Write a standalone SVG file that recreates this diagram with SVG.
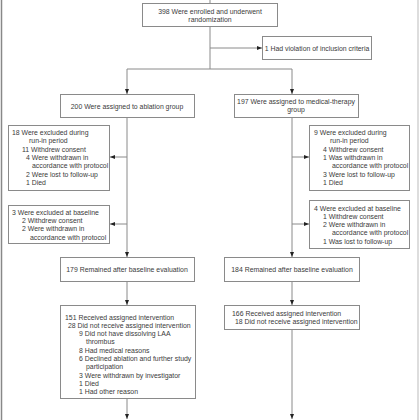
<svg xmlns="http://www.w3.org/2000/svg" width="420" height="420" viewBox="0 0 420 420">
<defs>
<marker id="ah" markerUnits="userSpaceOnUse" markerWidth="5" markerHeight="4" refX="5" refY="2" orient="auto">
<path d="M0,0 L5,2 L0,4 z" fill="#222"/>
</marker>
<style>
.box{fill:#fff;stroke:#8a8a8a;stroke-width:1}
.ln{fill:none;stroke:#8a8a8a;stroke-width:1}
.ar{fill:none;stroke:#8a8a8a;stroke-width:1;marker-end:url(#ah)}
text{font-family:"Liberation Sans",Arial,sans-serif;font-size:6.9px;fill:#3a3a3a}
.c{text-anchor:middle}
</style>
</defs>
<rect width="420" height="420" fill="#fff"/>
<line x1="1.5" y1="0" x2="1.5" y2="420" stroke="#888" stroke-width="1.5"/>
<line x1="418" y1="0" x2="418" y2="420" stroke="#bbb" stroke-width="1"/>
<g id="connectors">
<line class="ln" x1="210" y1="0" x2="210" y2="3"/>
<line class="ln" x1="210" y1="26" x2="210" y2="69"/>
<line class="ar" x1="210" y1="48" x2="262" y2="48"/>
<line class="ln" x1="127" y1="69" x2="292" y2="69"/>
<line class="ar" x1="127" y1="69" x2="127" y2="94"/>
<line class="ar" x1="292" y1="69" x2="292" y2="94"/>
<line class="ar" x1="127" y1="118" x2="127" y2="257"/>
<line class="ar" x1="127" y1="157" x2="110" y2="157"/>
<line class="ar" x1="127" y1="224" x2="110" y2="224"/>
<line class="ar" x1="292" y1="118" x2="292" y2="257"/>
<line class="ar" x1="292" y1="157" x2="309" y2="157"/>
<line class="ar" x1="292" y1="224" x2="309" y2="224"/>
<line class="ar" x1="127" y1="282" x2="127" y2="305"/>
<line class="ar" x1="292" y1="282" x2="292" y2="305"/>
<line class="ar" x1="127" y1="399" x2="127" y2="419"/>
<line class="ar" x1="292" y1="329" x2="292" y2="419"/>
</g>
<g id="enrolled">
<rect class="box" x="142.5" y="3.5" width="135" height="23"/>
<text class="c" x="210" y="13.5">398 Were enrolled and underwent</text>
<text class="c" x="210" y="22">randomization</text>
</g>
<g id="violation">
<rect class="box" x="262.5" y="36.5" width="109" height="23"/>
<text class="c" x="317" y="50.5">1 Had violation of inclusion criteria</text>
</g>
<g id="ablation">
<rect class="box" x="60.5" y="94.5" width="134" height="23"/>
<text class="c" x="127" y="108.5">200 Were assigned to ablation group</text>
</g>
<g id="medical">
<rect class="box" x="234.5" y="94.5" width="124" height="23"/>
<text class="c" x="296" y="103.5">197 Were assigned to medical-therapy</text>
<text class="c" x="296" y="112">group</text>
</g>
<g id="ablation-runin">
<rect class="box" x="8.5" y="125.5" width="101" height="65"/>
<text x="12" y="134.5">18 Were excluded during</text>
<text x="29" y="143">run-in period</text>
<text x="22" y="151.5">11 Withdrew consent</text>
<text x="26" y="159.5">4 Were withdrawn in</text>
<text x="32" y="168">accordance with protocol</text>
<text x="26" y="176.5">2 Were lost to follow-up</text>
<text x="26" y="184.5">1 Died</text>
</g>
<g id="ablation-baseline">
<rect class="box" x="8.5" y="205.5" width="101" height="38"/>
<text x="12" y="214.5">3 Were excluded at baseline</text>
<text x="22" y="222.5">2 Withdrew consent</text>
<text x="22" y="231">2 Were withdrawn in</text>
<text x="30" y="239.5">accordance with protocol</text>
</g>
<g id="medical-runin">
<rect class="box" x="309.5" y="125.5" width="100" height="65"/>
<text x="314" y="134.5">9 Were excluded during</text>
<text x="330" y="143">run-in period</text>
<text x="323" y="151.5">4 Withdrew consent</text>
<text x="323" y="159.5">1 Was withdrawn in</text>
<text x="332" y="168">accordance with protocol</text>
<text x="323" y="176.5">3 Were lost to follow-up</text>
<text x="323" y="184.5">1 Died</text>
</g>
<g id="medical-baseline">
<rect class="box" x="309.5" y="200.5" width="100" height="48"/>
<text x="314" y="210.5">4 Were excluded at baseline</text>
<text x="323" y="218.5">1 Withdrew consent</text>
<text x="323" y="226.5">2 Were withdrawn in</text>
<text x="332" y="235">accordance with protocol</text>
<text x="323" y="243.5">1 Was lost to follow-up</text>
</g>
<g id="ablation-remained">
<rect class="box" x="60.5" y="257.5" width="134" height="24"/>
<text class="c" x="127" y="271.5">179 Remained after baseline evaluation</text>
</g>
<g id="medical-remained">
<rect class="box" x="224.5" y="257.5" width="135" height="24"/>
<text class="c" x="292" y="271.5">184 Remained after baseline evaluation</text>
</g>
<g id="ablation-intervention">
<rect class="box" x="60.5" y="305.5" width="135" height="93"/>
<text x="65" y="319.5">151 Received assigned intervention</text>
<text x="68" y="327.5">28 Did not receive assigned intervention</text>
<text x="79" y="335.5">9 Did not have dissolving LAA</text>
<text x="86" y="344">thrombus</text>
<text x="79" y="352.5">8 Had medical reasons</text>
<text x="79" y="360.5">6 Declined ablation and further study</text>
<text x="86" y="369">participation</text>
<text x="79" y="377.5">3 Were withdrawn by investigator</text>
<text x="79" y="385.5">1 Died</text>
<text x="79" y="394">1 Had other reason</text>
</g>
<g id="medical-intervention">
<rect class="box" x="224.5" y="305.5" width="135" height="24"/>
<text x="232" y="315.5">166 Received assigned intervention</text>
<text x="235" y="324">18 Did not receive assigned intervention</text>
</g>
</svg>
